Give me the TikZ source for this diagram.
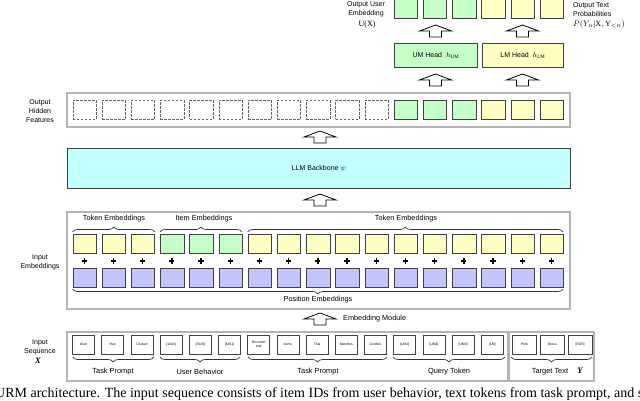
\documentclass[tikz,border=0pt]{standalone}
\usepackage{fontspec}
\setmainfont{Liberation Serif}
\setsansfont{Liberation Sans}
\usetikzlibrary{decorations.pathreplacing}
\definecolor{ylw}{HTML}{FFFFC4}
\definecolor{grn}{HTML}{C4FFC8}
\definecolor{prp}{HTML}{C4C4FF}
\definecolor{cyn}{HTML}{C2FFFF}
\definecolor{bord}{HTML}{404040}
\definecolor{frm}{HTML}{B4B4B4}
\begin{document}
\begin{tikzpicture}[x=1pt,y=-1pt,
  frame/.style={draw=frm, line width=1.1pt, fill=white},
  cell/.style={draw=bord, line width=0.8pt, minimum width=23.5pt, minimum height=19pt, inner sep=0pt, anchor=north west},
  dcell/.style={draw=bord!80, line width=0.6pt, dashed, dash pattern=on 2.6pt off 1.4pt, minimum width=23.5pt, minimum height=19pt, inner sep=0pt, anchor=north west},
  tok/.style={draw=bord, line width=0.8pt, minimum width=22pt, minimum height=19pt, inner sep=0pt, align=center, font=\sffamily\fontsize{3.4}{3.8}\selectfont},
  lbl/.style={font=\sffamily\fontsize{7}{9.2}\selectfont, align=center, inner sep=0pt},
  brl/.style={font=\sffamily\fontsize{7.4}{9}\selectfont, inner sep=0pt},
  bre/.style={font=\sffamily\fontsize{7.3}{9}\selectfont, inner sep=0pt},
  brup/.style={draw=black!80, line width=0.7pt, decorate, decoration={brace, amplitude=5pt}},
  brdn/.style={draw=black!80, line width=0.7pt, decorate, decoration={brace, amplitude=5pt, mirror}},
  uparrow/.pic={\draw[line width=0.8pt, fill=white, line join=miter] (-6,0) -- (-6,-6) -- (-16,-6) -- (0,-12) -- (16,-6) -- (6,-6) -- (6,0) -- cycle;}
]
\useasboundingbox (0,0) rectangle (640,401);
\clip (0,0) rectangle (640,401);

% ---------- top outputs ----------
\foreach \i in {12,13,14} {
  \pgfmathsetmacro\xx{72.5+(\i-1)*29.2}
  \node[cell, fill=grn] (o\i) at (\xx,-1) {};
}
\foreach \i in {15,16,17} {
  \pgfmathsetmacro\xx{72.5+(\i-1)*29.2}
  \node[cell, fill=ylw] (o\i) at (\xx,-1) {};
}
\node[lbl] (outU) at (366,9.5) {Output User\\Embedding};
\node[font=\fontsize{8}{9}\selectfont, inner sep=0pt] (ux) at (367,25) {U(X)};
\node[lbl, align=left, anchor=west] (outT) at (573,9.5) {Output Text\\Probabilities};
\node[font=\fontsize{8}{9}\selectfont, inner sep=0pt, anchor=west] (pt) at (573,25) {$P(Y_{n}|\mathrm{X},\mathrm{Y}_{<n})$};

\pic at (435.5,37) {uparrow};
\pic at (522.5,37) {uparrow};

% ---------- heads ----------
\node[draw=bord, line width=0.8pt, fill=grn, minimum width=83pt, minimum height=24pt, inner sep=0pt, anchor=north west, font=\sffamily\fontsize{7}{9}\selectfont] (umh) at (394,43) {UM Head~~$h_{\mathrm{UM}}$};
\node[draw=bord, line width=0.8pt, fill=ylw, minimum width=81pt, minimum height=24pt, inner sep=0pt, anchor=north west, font=\sffamily\fontsize{7}{9}\selectfont] (lmh) at (482,43) {LM Head~~$h_{\mathrm{LM}}$};

\pic at (435.5,86) {uparrow};
\pic at (522.5,86) {uparrow};

% ---------- output hidden features ----------
\draw[frame] (67,93) rectangle (570,127);
\node[lbl] (ohf) at (40,111) {Output\\Hidden\\Features};
\foreach \i in {1,...,11} {
  \pgfmathsetmacro\xx{72.5+(\i-1)*29.2}
  \node[dcell] (h\i) at (\xx,100) {};
}
\foreach \i in {12,13,14} {
  \pgfmathsetmacro\xx{72.5+(\i-1)*29.2}
  \node[cell, fill=grn] (h\i) at (\xx,100) {};
}
\foreach \i in {15,16,17} {
  \pgfmathsetmacro\xx{72.5+(\i-1)*29.2}
  \node[cell, fill=ylw] (h\i) at (\xx,100) {};
}

\pic at (320,143) {uparrow};

% ---------- LLM backbone ----------
\node[draw=bord, line width=0.9pt, fill=cyn, minimum width=503pt, minimum height=40pt, inner sep=0pt, anchor=north west, font=\sffamily\fontsize{7}{9}\selectfont] (llm) at (67,148) {LLM Backbone $\psi$};

\pic at (320,206) {uparrow};

% ---------- input embeddings ----------
\draw[frame] (67,212) rectangle (570,309);
\node[lbl] (ie) at (40,262) {Input\\Embeddings};
\foreach \i in {1,...,17} {
  \pgfmathsetmacro\xx{72.5+(\i-1)*29.2}
  \pgfmathsetmacro\cc{72.5+(\i-1)*29.2+11.75}
  \ifnum\i>3 \ifnum\i<7
    \node[cell, fill=grn] (e\i) at (\xx,234) {};
  \else
    \node[cell, fill=ylw] (e\i) at (\xx,234) {};
  \fi\else
    \node[cell, fill=ylw] (e\i) at (\xx,234) {};
  \fi
  \node[cell, fill=prp] (p\i) at (\xx,268) {};
  \draw[line width=1.5pt] (\cc-2.6,261) -- (\cc+2.6,261) (\cc,258.4) -- (\cc,263.6);
}
\draw[brup] (72.5,232) -- (155,232);
\draw[brup] (160,232) -- (242,232);
\draw[brup] (247.5,232) -- (563,232);
\node[bre] (te1) at (114,219) {Token Embeddings};
\node[bre] (itm) at (204,219) {Item Embeddings};
\node[bre] (te2) at (406,219) {Token Embeddings};
\draw[brdn] (72.5,289) -- (563,289);
\node[bre] (pe) at (318,300) {Position Embeddings};

\pic at (320,325) {uparrow};
\node[bre, anchor=west] (em) at (343,319) {Embedding Module};

% ---------- input sequence ----------
\draw[frame] (67,332) rectangle (508,381);
\draw[frame] (509,332) rectangle (594,381);
\node[lbl] (is) at (40,347.5) {Input\\Sequence};
\node[font=\fontsize{8.5}{9}\selectfont\bfseries\itshape, inner sep=0pt] (xx) at (38,361) {X};
\foreach \t [count=\i] in {User,Has,Clicked,{[1324]},{[3543]},{[3451]},{Recomm\\end},Items,Thai,Matches,Clothes,{[UM1]},{[UM2]},{[UM3]},{[LM]}} {
  \pgfmathsetmacro\xx{83.5+(\i-1)*29.2}
  \node[tok] (s\i) at (\xx,344.5) {\t};
}
\foreach \t [count=\i] in {Pink,Dress,{[EOS]}} {
  \pgfmathsetmacro\xx{524.5+(\i-1)*27.8}
  \node[tok, minimum width=24pt] (t\i) at (\xx,344.5) {\t};
}
\draw[brdn] (72.5,357) -- (154,357);
\draw[brdn] (160,357) -- (240,357);
\draw[brdn] (248,357) -- (387,357);
\draw[brdn] (393,357) -- (505,357);
\draw[brdn] (511,357) -- (592,357);
\node[brl] (tp1) at (113,372) {Task Prompt};
\node[brl] (ub) at (200,372) {User Behavior};
\node[brl] (tp2) at (318,372) {Task Prompt};
\node[brl] (qt) at (449,372) {Query Token};
\node[brl] (tt) at (550,372) {Target Text};
\node[font=\fontsize{8.5}{9}\selectfont\bfseries\itshape, inner sep=0pt] (yy) at (580,371) {Y};

% ---------- caption (cut off at both edges, as in the reference) ----------
\node[anchor=base west, inner sep=0pt, font=\fontsize{14}{16}\selectfont] (cap) at (-5,397) {URM architecture. The input sequence consists of item IDs from user behavior, text tokens from task prompt, and s};
\end{tikzpicture}
\end{document}
